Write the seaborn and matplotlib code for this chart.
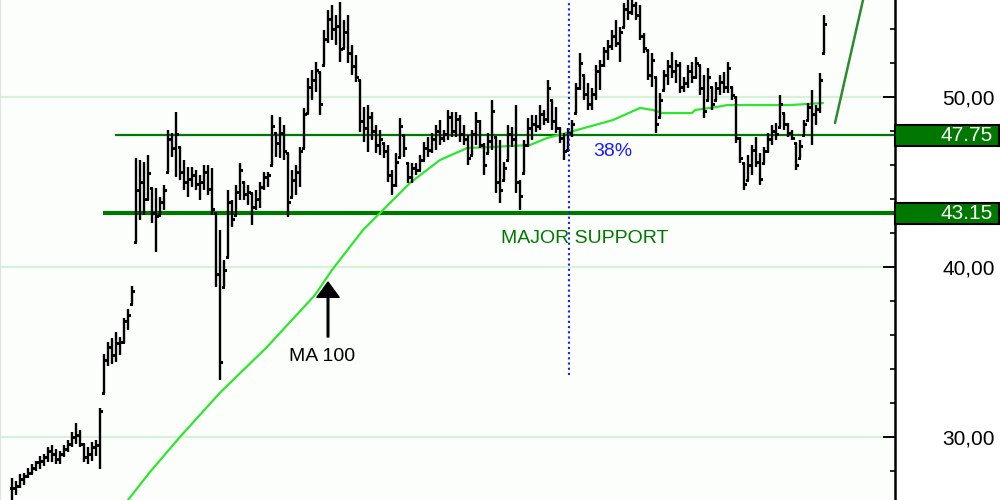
import numpy as np
import matplotlib
matplotlib.use("Agg")
import matplotlib.pyplot as plt
import seaborn as sns
from matplotlib.patches import Rectangle
from matplotlib.transforms import blended_transform_factory

sns.set_style("white")
plt.rcParams['font.family'] = ['Liberation Sans', 'DejaVu Sans']

# ---------------- data (prices) ----------------
high = [27.6, 27.4, 27.8, 27.9, 28.2, 28.4, 28.6, 28.9, 29.0, 29.4,
        29.5, 29.3, 29.2, 29.5, 29.8, 30.3, 30.8, 30.4, 29.6, 29.4,
        29.7, 29.8, 31.7, 34.9, 35.6, 35.8, 36.2, 35.9, 37.0, 37.5,
        38.9, 46.41, 46.29, 46.17, 46.58, 44.64, 44.64, 44.11, 44.82, 48.05,
        47.88, 49.11, 47.05, 46.29, 45.88, 45.88, 45.70, 45.41, 45.99, 45.99,
        45.82, 43.17, 42.17, 40.41, 44.52, 43.94, 44.82, 46.11, 44.99, 44.82,
        44.35, 44.52, 44.99, 45.58, 45.58, 48.94, 47.88, 48.82, 48.35, 46.70,
        45.70, 45.99, 47.05, 49.35, 51.11, 51.58, 52.05, 51.46, 53.94, 55.11,
        55.41, 54.82, 55.58, 54.52, 54.82, 53.05, 52.46, 50.99, 49.41, 49.52,
        49.11, 48.35, 48.05, 47.29, 47.17, 45.70, 46.70, 48.76, 47.76, 46.11,
        46.11, 46.11, 46.58, 47.35, 47.64, 47.88, 48.35, 48.64, 48.05, 49.23,
        49.11, 49.11, 48.94, 48.35, 47.76, 48.05, 49.11, 48.64, 47.29, 47.88,
        49.82, 47.64, 47.46, 46.17, 48.35, 48.23, 49.52, 45.11, 47.46, 48.76,
        48.94, 48.94, 49.52, 49.23, 50.99, 49.82, 49.41, 48.23, 47.88, 48.17,
        48.64, 50.82, 52.58, 51.29, 50.82, 50.52, 51.88, 52.17, 52.94, 53.35,
        53.94, 54.52, 54.11, 55.52, 55.80, 55.80, 55.58, 55.41, 53.76, 52.76,
        52.58, 51.17, 50.23, 51.58, 52.17, 52.64, 52.17, 52.05, 51.17, 51.88,
        52.05, 52.35, 51.88, 51.29, 51.70, 50.58, 50.88, 51.29, 51.46, 52.05,
        50.58, 50.00, 47.64, 46.11, 46.58, 47.17, 47.64, 46.70, 47.05, 47.88,
        48.35, 48.46, 50.11, 49.05, 48.46, 48.05, 47.29, 47.46, 48.64, 49.64,
        50.41, 49.52, 51.41, 54.82]
low = [26.3, 26.6, 27.0, 27.2, 27.6, 27.8, 28.0, 28.1, 28.3, 28.5,
       28.5, 28.4, 28.4, 28.8, 29.1, 29.4, 29.6, 29.4, 28.5, 28.4,
       28.6, 28.9, 28.1, 32.6, 34.2, 34.3, 34.4, 34.8, 35.5, 36.3,
       37.8, 41.46, 42.76, 43.05, 43.94, 42.58, 40.88, 43.05, 43.35, 45.58,
       46.46, 45.29, 45.11, 44.52, 44.11, 44.70, 44.52, 43.94, 44.52, 44.23,
       43.05, 38.82, 33.35, 38.82, 40.58, 42.35, 43.05, 43.94, 43.94, 43.64,
       42.46, 43.35, 43.46, 44.52, 44.70, 45.99, 46.46, 46.41, 46.29, 42.94,
       44.11, 44.23, 44.70, 46.99, 49.05, 49.82, 50.29, 48.94, 51.88, 53.17,
       53.35, 53.05, 52.05, 52.88, 52.00, 51.29, 50.88, 47.94, 47.35, 46.76,
       47.46, 46.70, 46.58, 46.41, 44.99, 44.23, 44.70, 46.46, 46.46, 44.94,
       44.94, 45.41, 45.70, 46.29, 46.46, 46.70, 46.88, 47.17, 47.35, 47.46,
       47.64, 47.64, 47.35, 47.17, 45.99, 46.58, 47.17, 46.99, 45.41, 46.70,
       46.88, 44.35, 43.76, 45.11, 46.29, 47.05, 44.35, 43.35, 45.52, 47.05,
       47.46, 47.94, 48.05, 48.35, 48.46, 48.05, 47.88, 47.29, 46.29, 46.88,
       47.64, 49.05, 50.41, 49.82, 49.23, 49.23, 49.82, 50.41, 51.76, 52.17,
       52.76, 52.94, 52.05, 54.11, 54.52, 54.82, 54.52, 53.35, 52.58, 50.99,
       50.58, 47.88, 48.82, 50.41, 50.70, 51.11, 50.82, 50.23, 50.29, 50.52,
       50.82, 51.11, 50.11, 48.76, 49.82, 49.23, 49.82, 50.11, 50.23, 50.23,
       49.82, 47.29, 46.11, 44.52, 45.11, 45.41, 45.88, 44.82, 46.11, 46.70,
       47.17, 47.46, 48.23, 48.05, 47.64, 47.46, 45.70, 46.41, 47.76, 48.64,
       47.17, 48.35, 49.05, 52.58]
close = [27.0, 27.1, 27.5, 27.7, 27.9, 28.2, 28.5, 28.6, 28.8, 29.2,
         29.0, 28.7, 29.0, 29.3, 29.6, 30.0, 30.1, 29.6, 28.8, 29.0,
         29.4, 29.5, 31.5, 34.5, 35.3, 34.8, 35.5, 35.6, 36.8, 37.2,
         38.6, 44.5, 45.0, 44.0, 45.5, 43.2, 43.0, 43.8, 44.5, 47.5,
         47.0, 47.8, 45.6, 45.0, 45.2, 45.4, 44.9, 45.0, 45.6, 44.6,
         43.4, 39.6, 34.4, 39.8, 43.8, 42.8, 44.4, 45.7, 44.3, 44.4,
         43.5, 44.0, 44.7, 45.3, 45.4, 48.3, 47.3, 47.9, 46.8, 43.8,
         45.1, 45.6, 46.8, 49.0, 50.6, 51.0, 51.6, 49.6, 53.4, 54.6,
         54.0, 54.2, 52.8, 53.8, 52.6, 51.8, 51.2, 48.6, 48.2, 48.8,
         48.0, 47.2, 47.5, 46.8, 45.4, 44.8, 46.2, 48.3, 47.0, 45.3,
         45.8, 45.7, 46.3, 47.0, 46.9, 47.5, 48.0, 47.6, 47.8, 48.8,
         48.0, 48.7, 47.8, 47.5, 46.4, 47.8, 48.6, 47.2, 46.0, 47.4,
         49.2, 45.0, 44.5, 45.8, 47.8, 47.5, 45.0, 44.2, 47.2, 48.2,
         48.4, 48.3, 49.0, 48.7, 50.5, 48.6, 48.2, 47.6, 46.8, 47.9,
         48.4, 50.5, 52.0, 50.2, 49.6, 50.2, 51.5, 51.9, 52.7, 53.0,
         53.6, 53.2, 53.8, 55.2, 55.0, 55.4, 54.8, 53.6, 52.9, 51.3,
         52.2, 48.4, 49.8, 51.3, 51.8, 51.5, 51.9, 50.6, 50.8, 51.5,
         51.2, 52.0, 50.5, 49.2, 51.2, 49.6, 50.5, 50.9, 50.6, 51.7,
         50.1, 47.6, 46.4, 44.9, 46.0, 46.9, 46.2, 45.2, 46.8, 47.5,
         48.0, 47.8, 49.6, 48.4, 47.9, 47.6, 46.0, 47.1, 48.4, 49.4,
         49.0, 49.3, 51.0, 54.3]

# 100-day moving average, read at bar positions
ma_x = [29.0, 34.5, 42.0, 52.0, 63.75, 75.75, 80.0, 87.75, 94.5, 99.5,
        107.0, 113.75, 119.5, 129.5, 133.75, 139.5, 150.25, 157.0, 160.25, 162.5,
        170.0, 170.75, 176.25, 178.75, 194.5, 202.75]
ma_v = [26.29, 27.94, 30.0, 32.6, 35.29, 38.35, 39.82, 42.17, 43.76, 44.94,
        46.29, 46.99, 47.05, 47.17, 47.58, 47.94, 48.64, 49.35, 49.23, 49.05,
        49.05, 49.23, 49.41, 49.52, 49.52, 49.64]

resistance = 47.75
support = 43.15
res_start = 25.75
sup_start = 22.75
fib_x = 139.25
fib_y = [33.64, 55.70]
trend_x = [205.75, 212.75]
trend_y = [48.46, 55.70]
major_ticks = [30, 40, 50]
major_labels = ["30,00", "40,00", "50,00"]
minor_ticks = [28, 32, 34, 36, 38, 42, 44, 46, 48, 52, 54]

# ---------------- figure ----------------
bg = "#fbfefb"
fig = plt.figure(figsize=(10, 5), dpi=100, facecolor="white")
ax = fig.add_axes([0, 0, 0.895, 1])
ax.set_facecolor(bg)
XMAX = 220.75
ax.set_xlim(-3, XMAX)
ax.set_ylim(26.29, 55.70)

idx = np.arange(len(high))
h = np.array(high); l = np.array(low); c = np.array(close)
o = np.clip(np.concatenate([[c[0]], c[:-1]]), l, h)

# grid
ax.hlines(major_ticks, -3, XMAX, color="#d8f2d8", lw=1.5, zorder=0)

# support / resistance
ax.hlines(resistance, res_start, XMAX, color="#007800", lw=1.6, zorder=2)
ax.hlines(support, sup_start, XMAX, color="#007800", lw=3.0, zorder=2)

# MA line
sns.lineplot(x=ma_x, y=ma_v, ax=ax, color="#2ee62e", lw=1.6, sort=False, zorder=3)

# OHLC bars
ax.vlines(idx, l, h, color="black", lw=1.7, zorder=4)
ax.hlines(o, idx - 0.55, idx, color="black", lw=1.0, zorder=4, antialiased=False)
ax.hlines(c, idx, idx + 0.55, color="black", lw=1.0, zorder=4, antialiased=False)

# fibonacci dotted line
ax.vlines(fib_x, fib_y[0], fib_y[1], color="#1a1aff", lw=1.5,
          linestyles=(0, (1, 1.5)), zorder=5)

# trend line
ax.plot(trend_x, trend_y, color="#2d8a2d", lw=1.8, zorder=3)

# annotations
ax.text(150.25, 46.76, "38%", color="#1a1aff", fontsize=14, ha="center", va="center")
ax.text(143.25, 41.7, "MAJOR SUPPORT", color="#007800", fontsize=14, ha="center", va="center")
ax.text(77.5, 34.76, "MA 100", color="black", fontsize=14, ha="center", va="center")
ax.annotate("", xy=(79, 39.11), xytext=(79, 35.88),
            arrowprops=dict(facecolor="black", edgecolor="black", width=1.2,
                            headwidth=16, headlength=11))

# axes styling
for s in ["top", "bottom"]:
    ax.spines[s].set_visible(False)
ax.spines["left"].set_color("#e2e2e2")
ax.spines["left"].set_linewidth(1.5)
ax.spines["right"].set_color("black")
ax.spines["right"].set_linewidth(1.8)
ax.set_xticks([])
ax.yaxis.tick_right()
ax.set_yticks(major_ticks)
ax.set_yticklabels(major_labels)
ax.set_yticks(minor_ticks, minor=True)
ax.tick_params(axis="y", which="major", direction="in", length=8.6, width=1.4,
               pad=34, labelsize=15, colors="black")
ax.tick_params(axis="y", which="minor", direction="in", length=3.6, width=1.4)

# price boxes
tr = blended_transform_factory(ax.transAxes, ax.transData)
box_w = 104 / 895
box_h = 21 / 17
for val, lab in [(resistance, "47.75"), (support, "43.15")]:
    ax.add_patch(Rectangle((1.0, val - box_h / 2), box_w, box_h, transform=tr,
                           facecolor="#007800", edgecolor="black", lw=1.5,
                           clip_on=False, zorder=6))
    ax.text(993 / 895, val, lab, transform=tr, color="white", fontsize=15,
            ha="right", va="center", clip_on=False, zorder=7)

fig.savefig("out.png", dpi=100, facecolor="white")
